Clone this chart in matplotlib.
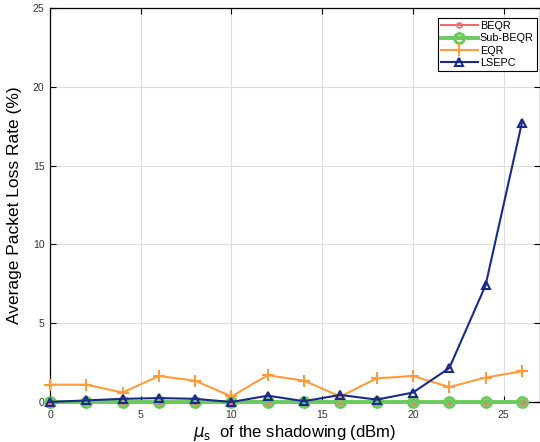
import matplotlib
matplotlib.use('Agg')
import matplotlib.pyplot as plt

shadowing = [0, 2, 4, 6, 8, 10, 12, 14, 16, 18, 20, 22, 24, 26]
beqr = [0, 0, 0, 0, 0, 0, 0, 0, 0, 0, 0, 0, 0, 0]
sub_beqr = [0, 0, 0, 0, 0, 0, 0, 0, 0, 0, 0, 0, 0, 0]
eqr = [1.1, 1.1, 0.6, 1.65, 1.35, 0.35, 1.7, 1.35, 0.35, 1.5, 1.65, 0.95, 1.55, 1.95]
lsepc = [0.0, 0.1, 0.2, 0.25, 0.2, 0.0, 0.4, 0.05, 0.45, 0.15, 0.6, 2.15, 7.4, 17.7]

plt.rcParams['font.family'] = ['Liberation Sans', 'DejaVu Sans']

fig = plt.figure(figsize=(5.4, 4.42), dpi=100)
ax = fig.add_axes([0.0926, 0.0905, 0.9074, 0.8915])

ax.plot(shadowing, beqr, color='#f26b6b', lw=1.5, marker='o', ms=3.5,
        mfc='none', mew=1.2, label='BEQR', zorder=3, clip_on=False)
ax.plot(shadowing, sub_beqr, color='#6cc95c', lw=2.8, marker='o', ms=7,
        mfc='none', mew=2.2, label='Sub-BEQR', zorder=4, clip_on=False)
ax.plot(shadowing, eqr, color='#ff9b3a', lw=1.5, marker='+', ms=8,
        mew=1.5, label='EQR', zorder=5, clip_on=False)
ax.plot(shadowing, lsepc, color='#1a2a8a', lw=1.5, marker='^', ms=6,
        mfc='none', mew=1.5, label='LSEPC', zorder=6, clip_on=False)

ax.set_xlim(0, 27)
ax.set_ylim(0, 25)
ax.set_xticks([0, 5, 10, 15, 20, 25])
ax.set_yticks([0, 5, 10, 15, 20, 25])
ax.tick_params(direction='in', top=True, right=True, labelsize=7.5,
               labelcolor='#333333', length=4, width=0.8)
ax.tick_params(axis='x', pad=6)
ax.tick_params(axis='y', pad=4)
ax.grid(True, color='#dddddd', lw=0.8)
ax.set_axisbelow(True)
for s in ax.spines.values():
    s.set_linewidth(0.9)

ax.set_ylabel('Average Packet Loss Rate (%)', fontsize=12.5, labelpad=8)
ax.set_xlabel(r'$\mu_{\mathrm{s}}$  of the shadowing (dBm)', fontsize=12, labelpad=2)

leg = ax.legend(loc='upper right', bbox_to_anchor=(0.998, 0.98), fontsize=7.8,
                fancybox=False, framealpha=1, edgecolor='black',
                handlelength=3.4, borderpad=0.3, labelspacing=0.2,
                handletextpad=0.2, borderaxespad=0.2)
leg.get_frame().set_linewidth(0.8)
leg.set_zorder(10)

fig.savefig('out.png', dpi=100)
